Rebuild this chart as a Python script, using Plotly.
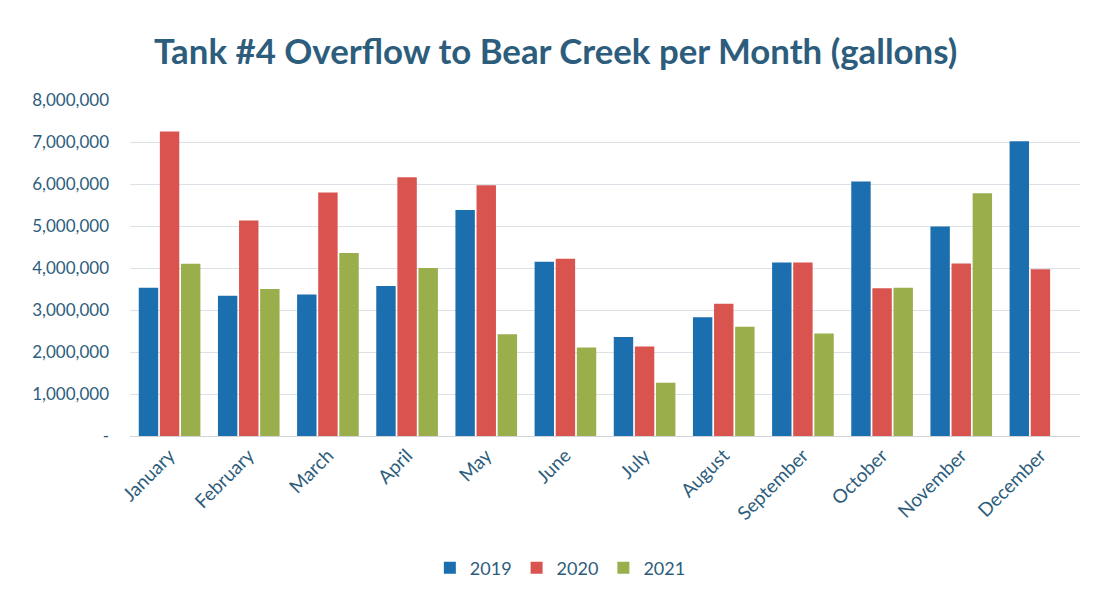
import plotly.graph_objects as go

months = ["January", "February", "March", "April", "May", "June", "July",
          "August", "September", "October", "November", "December"]
y2019 = [3530000, 3340000, 3370000, 3570000, 5380000, 4150000, 2360000,
         2830000, 4130000, 6060000, 4990000, 7020000]
y2020 = [7250000, 5130000, 5800000, 6160000, 5970000, 4220000, 2130000,
         3150000, 4130000, 3520000, 4110000, 3970000]
y2021 = [4100000, 3500000, 4360000, 4000000, 2420000, 2110000, 1270000,
         2600000, 2440000, 3530000, 5780000, None]
tick_vals = [0, 1000000, 2000000, 3000000, 4000000, 5000000, 6000000, 7000000, 8000000]
tick_text = ["-", "1,000,000", "2,000,000", "3,000,000", "4,000,000",
             "5,000,000", "6,000,000", "7,000,000", "8,000,000"]

text_color = "#2D5D7C"
font_family = "Lato, 'Open Sans', sans-serif"

fig = go.Figure()
for name, vals, color in [("2019", y2019, "#1B6FAF"),
                          ("2020", y2020, "#D9534F"),
                          ("2021", y2021, "#9AAE4C")]:
    fig.add_trace(go.Bar(x=months, y=vals, name=name, marker_color=color,
                         marker_line_width=0))

fig.update_layout(
    width=1102, height=598,
    margin=dict(l=122, r=30, t=92, b=170, autoexpand=False),
    paper_bgcolor="white", plot_bgcolor="white",
    barmode="group", bargap=0.2, bargroupgap=0.08,
    font=dict(family=font_family, color=text_color, size=17),
    title=dict(text="<b>Tank #4 Overflow to Bear Creek per Month (gallons)</b>",
               x=0.497, xanchor="center", y=0.926, yanchor="middle",
               font=dict(size=34.8, color=text_color, family=font_family)),
    legend=dict(orientation="h", x=0.453, xanchor="center", y=-0.393, yanchor="middle",
                font=dict(size=18, color=text_color), itemwidth=30,
                traceorder="normal"),
    showlegend=True,
)
fig.update_xaxes(tickangle=-45, showgrid=False, showline=True,
                 linecolor="#D0D4DA", linewidth=1, ticks="",
                 tickfont=dict(size=19, color=text_color))
fig.update_yaxes(range=[0, 8000000], tickvals=tick_vals, ticktext=tick_text,
                 showgrid=True, gridcolor="#DCE1E8", gridwidth=1,
                 zeroline=False, showline=False, ticks="",
                 ticklabelstandoff=20,
                 tickfont=dict(size=17, color=text_color))

fig.write_html("out.html")
